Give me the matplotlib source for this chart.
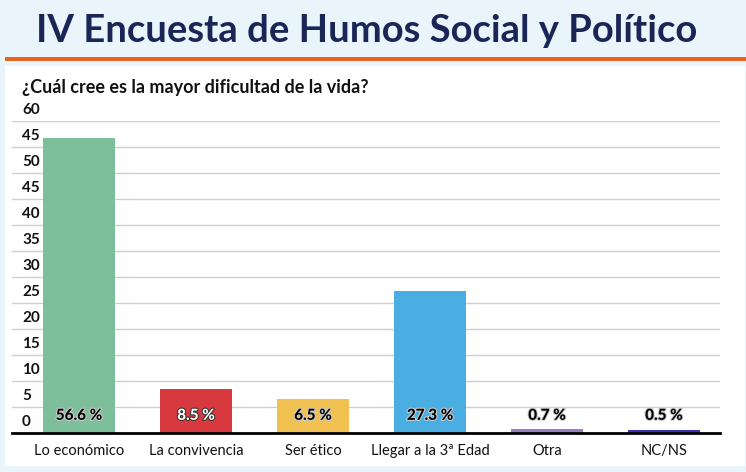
import matplotlib
matplotlib.use("Agg")
import matplotlib.pyplot as plt
import matplotlib.patheffects as pe
from matplotlib.transforms import blended_transform_factory
from matplotlib.patches import Rectangle

# ---- data ----
title = "IV Encuesta de Humos Social y Político"
question = "¿Cuál cree es la mayor dificultad de la vida?"
categories = ["Lo económico", "La convivencia", "Ser ético", "Llegar a la 3ª Edad", "Otra", "NC/NS"]
values = [56.6, 8.5, 6.5, 27.3, 0.7, 0.5]
value_labels = ["56.6 %", "8.5 %", "6.5 %", "27.3 %", "0.7 %", "0.5 %"]
bar_colors = ["#7dbe9b", "#d8393f", "#f0c050", "#4baee2", "#9a80c0", "#3a2fb5"]
ytick_values = [0, 5, 10, 15, 20, 25, 30, 35, 40, 45, 50, 55, 60]
ytick_labels = ["0", "5", "10", "15", "20", "25", "30", "35", "40", "45", "50", "45", "60"]

W, H = 746, 472
fig = plt.figure(figsize=(W / 100, H / 100), dpi=100)
fig.patch.set_facecolor("#eaf4fb")

# background layer
bg = fig.add_axes([0, 0, 1, 1], zorder=-5)
bg.set_xlim(0, W)
bg.set_ylim(H, 0)
bg.axis("off")
bg.add_patch(Rectangle((5, 66), 740, 400, facecolor="white", edgecolor="none"))
bg.add_patch(Rectangle((5, 57), 741, 4, facecolor="#e8641e", edgecolor="none"))

fig.text(367 / W, 1 - 31 / H, title, ha="center", va="center",
         fontsize=27.5, fontweight="bold", color="#1a2656", family=["Lato", "DejaVu Sans"])
fig.text(22 / W, 1 - 88 / H, question, ha="left", va="center",
         fontsize=13, fontweight="bold", color="#111111", family=["Lato", "DejaVu Sans"])

ax = fig.add_axes([12 / W, 1 - 433 / H, 708 / W, (433 - 120.7) / H], zorder=1)
ax.set_facecolor("none")
x = list(range(len(categories)))
ax.bar(x, values, width=0.615, color=bar_colors, zorder=3)
ax.set_xlim(-0.573, 5.479)
ax.set_ylim(0, 60)

for s in ["top", "right", "left"]:
    ax.spines[s].set_visible(False)
ax.spines["bottom"].set_linewidth(2)
ax.spines["bottom"].set_color("black")
ax.spines["bottom"].set_zorder(4)

ax.set_yticks(ytick_values)
ax.set_yticklabels([])
ax.tick_params(axis="y", length=0)
ax.grid(axis="y", color="#cfcfcf", linewidth=1, zorder=0)
trans = blended_transform_factory(ax.transAxes, ax.transData)
for v, lab in zip(ytick_values, ytick_labels):
    ax.text(10 / 708, v + 0.8, lab, transform=trans, ha="left", va="bottom",
            fontsize=11, fontweight="bold", color="#111111", family=["Lato", "DejaVu Sans"])

ax.set_xticks(x)
ax.set_xticklabels(categories, fontsize=10.5, color="#111111", family=["Lato", "DejaVu Sans"])
ax.tick_params(axis="x", length=0, pad=8)

for xi, lab, c in zip(x, value_labels, bar_colors):
    if c == "#d8393f":
        col, stroke = "white", "#333333"
    else:
        col, stroke = "black", "#cccccc"
    ax.text(xi, 3.3, lab, ha="center", va="center", fontsize=11, fontweight=900,
            color=col, family=["Lato", "DejaVu Sans"], zorder=5,
            path_effects=[pe.withStroke(linewidth=1.5, foreground=stroke)])

fig.savefig("out.png", dpi=100, facecolor=fig.get_facecolor())
